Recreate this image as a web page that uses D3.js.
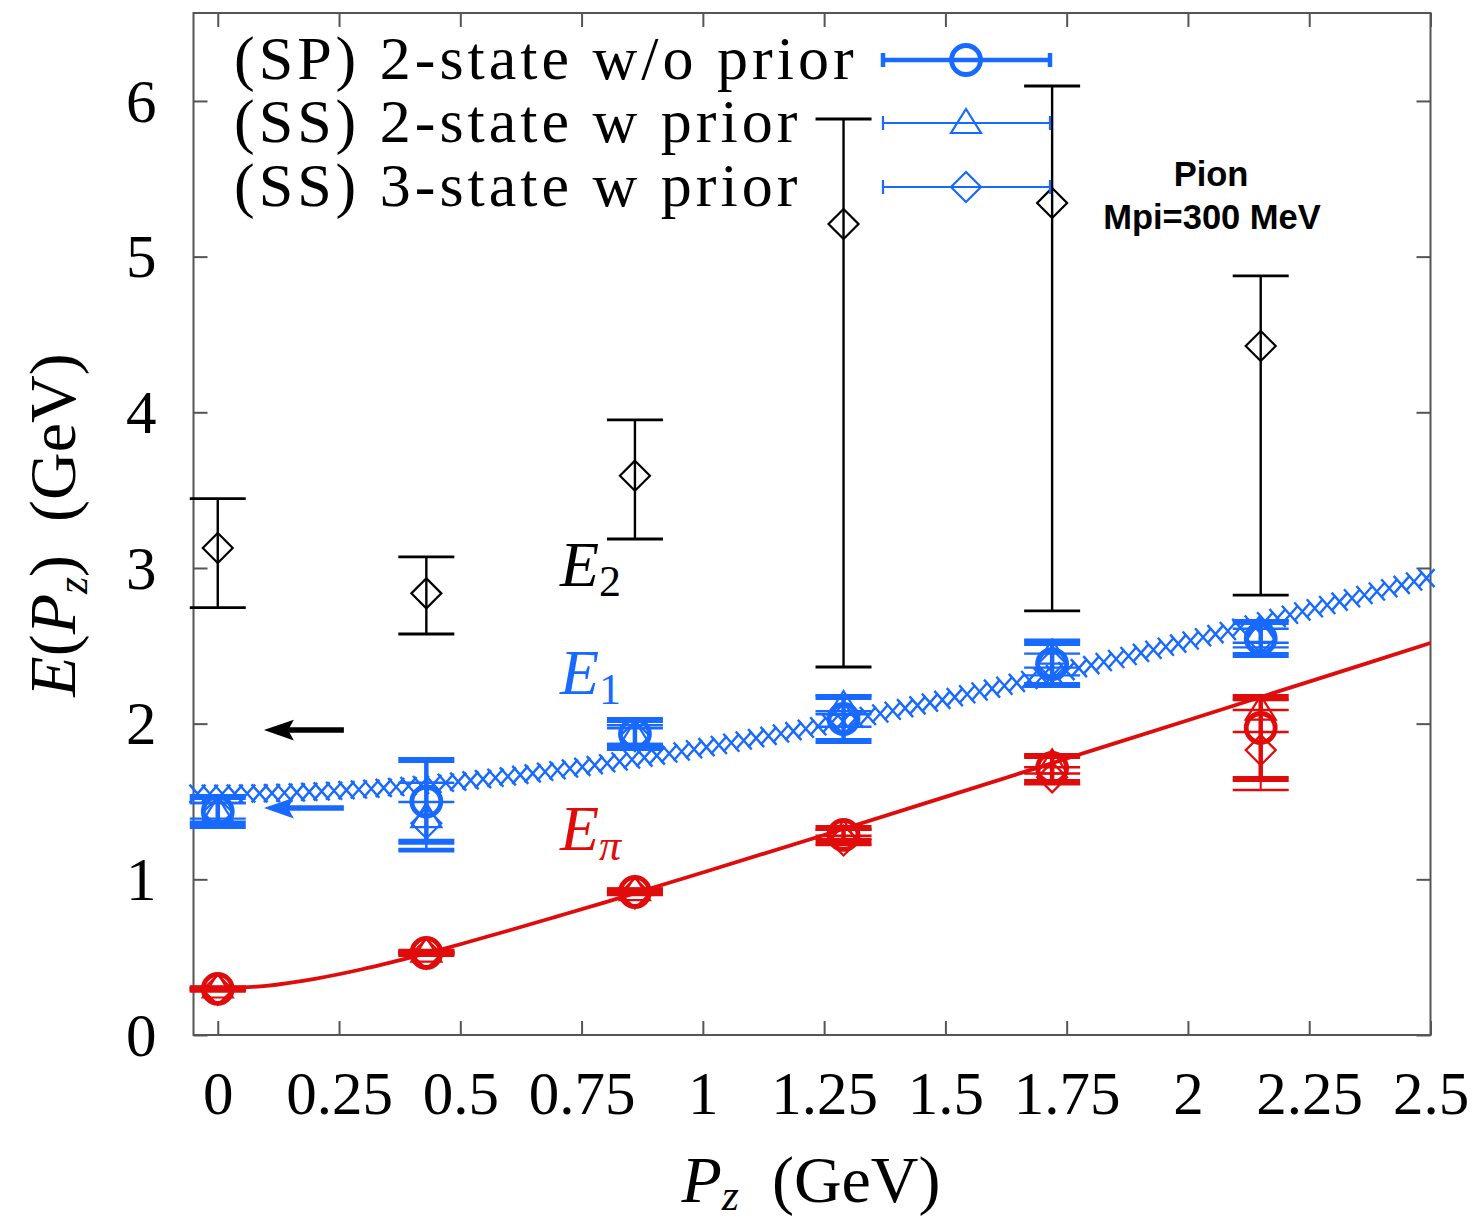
<!DOCTYPE html>
<html><head><meta charset="utf-8">
<script src="https://cdn.jsdelivr.net/npm/d3@7"></script>
<style>
html,body{margin:0;padding:0;background:#fff;}
svg{display:block;}
</style></head>
<body>
<svg id="c" width="1479" height="1223"></svg>
<script>
// ---------- data ----------
const pz = [0, 0.43, 0.86, 1.29, 1.72, 2.15];

// E_pi (red): value, upper, lower
const piSP = [0.296, 0.527, 0.919, 1.285, 1.715, 1.972];
const piSPhi = [0.300, 0.535, 0.930, 1.330, 1.792, 2.171];
const piSPlo = [0.290, 0.520, 0.910, 1.240, 1.625, 1.645];
const piS2 = [0.305, 0.535, 0.930, 1.290, 1.745, 2.090];
const piS2hi = [0.309, 0.540, 0.940, 1.320, 1.790, 2.152];
const piS2lo = [0.301, 0.530, 0.920, 1.260, 1.680, 1.946];
const piS3 = [0.290, 0.520, 0.910, 1.250, 1.655, 1.830];
const piS3hi = [0.294, 0.525, 0.920, 1.280, 1.720, 2.088];
const piS3lo = [0.286, 0.515, 0.900, 1.220, 1.610, 1.574];

// E_1 (blue)
const e1SP = [1.436, 1.500, 1.933, 2.030, 2.383, 2.547];
const e1SPhi = [1.529, 1.767, 2.023, 2.171, 2.518, 2.653];
const e1SPlo = [1.343, 1.242, 1.843, 1.889, 2.248, 2.441];
const e1S2 = [1.440, 1.400, 1.930, 2.120, 2.450, 2.590];
const e1S2hi = [1.490, 1.620, 1.990, 2.180, 2.540, 2.660];
const e1S2lo = [1.390, 1.180, 1.870, 2.060, 2.360, 2.520];
const e1S3 = [1.430, 1.360, 1.920, 2.030, 2.380, 2.550];
const e1S3hi = [1.490, 1.497, 1.970, 2.080, 2.450, 2.610];
const e1S3lo = [1.370, 1.195, 1.870, 1.980, 2.310, 2.490];

// E_2 (black, 3-state)
const e2S3 = [3.128, 2.837, 3.593, 5.210, 5.345, 4.426];
const e2S3hi = [3.446, 3.071, 3.951, 5.884, 6.096, 4.876];
const e2S3lo = [2.745, 2.576, 3.186, 2.364, 2.724, 2.826];

// fit curves
const fitX = [-0.05, 0, 0.1, 0.2, 0.3, 0.4, 0.5, 0.6, 0.7, 0.8, 0.9, 1.0, 1.25, 1.5, 1.75, 2.0, 2.25, 2.5];
const fitPi = [0.304, 0.300, 0.316, 0.361, 0.424, 0.500, 0.583, 0.671, 0.762, 0.854, 0.949, 1.044, 1.285, 1.530, 1.776, 2.022, 2.270, 2.518];
const fitE1 = [1.551, 1.550, 1.553, 1.563, 1.579, 1.601, 1.629, 1.662, 1.701, 1.744, 1.792, 1.845, 1.991, 2.157, 2.338, 2.530, 2.732, 2.942];

// arrows [x tail, x tip, y]
const arrowBlack = [0.26, 0.10, 1.959];
const arrowBlue = [0.26, 0.10, 1.458];

const xTicks = [0, 0.25, 0.5, 0.75, 1, 1.25, 1.5, 1.75, 2, 2.25, 2.5];
const xTickLabels = ["0", "0.25", "0.5", "0.75", "1", "1.25", "1.5", "1.75", "2", "2.25", "2.5"];
const yTicks = [0, 1, 2, 3, 4, 5, 6];
const yTickLabels = ["0", "1", "2", "3", "4", "5", "6"];

const legendLabels = ["(SP) 2-state w/o prior", "(SS) 2-state w prior", "(SS) 3-state w prior"];

// ---------- drawing ----------
const RED = "#e00b0b", BLUE = "#1769ff", FRAME = "#555";
const SERIF = "'Liberation Serif','DejaVu Serif',serif";
const svg = d3.select("#c");
const L = 193.5, R = 1430.5, T = 13, B = 1035;
const x = d3.scaleLinear().domain([-0.05, 2.5]).range([L, R]);
const y = d3.scaleLinear().domain([0, 6.565]).range([B, T]);

// axes
const tickLen = 14;
function styleAxis(g){ g.select(".domain").remove(); g.selectAll(".tick line").attr("stroke", FRAME).attr("stroke-width", 2); }
svg.append("g").attr("transform", `translate(0,${B})`)
  .call(d3.axisBottom(x).tickValues(xTicks).tickSizeInner(-tickLen).tickSizeOuter(0).tickPadding(tickLen + 65).tickFormat((d,i)=>xTickLabels[i]))
  .call(styleAxis)
  .call(g=>g.selectAll("text").attr("font-family", SERIF).attr("font-size", 61).attr("fill","#000").attr("dy", 0));
svg.append("g").attr("transform", `translate(0,${T})`)
  .call(d3.axisTop(x).tickValues(xTicks).tickSizeInner(-tickLen).tickSizeOuter(0).tickFormat(""))
  .call(styleAxis);
svg.append("g").attr("transform", `translate(${L},0)`)
  .call(d3.axisLeft(y).tickValues(yTicks).tickSizeInner(-tickLen).tickSizeOuter(0).tickPadding(tickLen + 23).tickFormat((d,i)=>yTickLabels[i]))
  .call(styleAxis)
  .call(g=>g.selectAll("text").attr("font-family", SERIF).attr("font-size", 61).attr("fill","#000").attr("dy", "0.33em"));
svg.append("g").attr("transform", `translate(${R},0)`)
  .call(d3.axisRight(y).tickValues(yTicks).tickSizeInner(-tickLen).tickSizeOuter(0).tickFormat(""))
  .call(styleAxis);
svg.append("rect").attr("x", L).attr("y", T).attr("width", R - L).attr("height", B - T)
  .attr("fill", "none").attr("stroke", FRAME).attr("stroke-width", 2);

// axis titles
const xt = svg.append("text").attr("x", 811).attr("y", 1202).attr("text-anchor", "middle")
  .attr("font-family", SERIF).attr("font-size", 66);
xt.append("tspan").attr("font-style", "italic").text("P");
xt.append("tspan").attr("font-style", "italic").attr("font-size", 44).attr("dy", 8).text("z");
xt.append("tspan").attr("dy", -8).text("\u2002(GeV)");

const yt = svg.append("text").attr("transform", "translate(75,525) rotate(-90)").attr("text-anchor", "middle")
  .attr("font-family", SERIF).attr("font-size", 66);
yt.append("tspan").attr("font-style", "italic").text("E");
yt.append("tspan").text("(");
yt.append("tspan").attr("font-style", "italic").text("P");
yt.append("tspan").attr("font-style", "italic").attr("font-size", 44).attr("dy", 12).text("z");
yt.append("tspan").attr("dy", -12).text(")\u2002(GeV)");

const plot = svg.append("g");

// fit: red line
const line = d3.line().x(d=>x(d[0])).y(d=>y(d[1])).curve(d3.curveMonotoneX);
plot.append("path").datum(fitX.map((v,i)=>[v, fitPi[i]])).attr("d", line)
  .attr("fill", "none").attr("stroke", RED).attr("stroke-width", 3.8);

// fit: blue band of x markers
const e1path = plot.append("path").datum(fitX.map((v,i)=>[v, fitE1[i]])).attr("d", line)
  .attr("fill", "none").attr("stroke", "none");
const pnode = e1path.node(), plen = pnode.getTotalLength();
function pointAtX(px){
  let lo = 0, hi = plen;
  for (let k=0;k<40;k++){ const m=(lo+hi)/2; if (pnode.getPointAtLength(m).x < px) lo=m; else hi=m; }
  return pnode.getPointAtLength((lo+hi)/2);
}
const nSamp = 100;
const crossG = plot.append("g").attr("stroke", BLUE).attr("stroke-width", 2.4).attr("fill","none");
for (let i=0;i<nSamp;i++){
  const px = L + 4 + (R - L - 8) * i / (nSamp - 1);
  const p = pointAtX(px);
  const hw = 8, hh = 9;
  crossG.append("path").attr("d", `M${p.x-hw},${p.y-hh}L${p.x+hw},${p.y+hh}M${p.x-hw},${p.y+hh}L${p.x+hw},${p.y-hh}`);
}

// markers
function marker(g, type, cx, cy, color, sw){
  if (type === "circle") g.append("circle").attr("cx", cx).attr("cy", cy).attr("r", 14.5).attr("fill","none").attr("stroke", color).attr("stroke-width", sw);
  else if (type === "tri") g.append("path").attr("d", `M${cx},${cy-14}L${cx+15},${cy+10}L${cx-15},${cy+10}Z`).attr("fill","none").attr("stroke", color).attr("stroke-width", sw);
  else g.append("path").attr("d", `M${cx},${cy-15}L${cx+15},${cy}L${cx},${cy+15}L${cx-15},${cy}Z`).attr("fill","none").attr("stroke", color).attr("stroke-width", sw);
}
function errSeries(vals, hi, lo, type, color, lw, capw){
  const g = plot.append("g");
  vals.forEach((v,i)=>{
    const cx = x(pz[i]);
    const y1 = y(hi[i]), y0 = y(lo[i]);
    g.append("line").attr("x1", cx).attr("x2", cx).attr("y1", y1).attr("y2", y0).attr("stroke", color).attr("stroke-width", lw);
    g.append("line").attr("x1", cx-28).attr("x2", cx+28).attr("y1", y1).attr("y2", y1).attr("stroke", color).attr("stroke-width", capw);
    g.append("line").attr("x1", cx-28).attr("x2", cx+28).attr("y1", y0).attr("y2", y0).attr("stroke", color).attr("stroke-width", capw);
    marker(g, type, cx, y(v), color, type === "circle" ? 4.8 : 2.2);
  });
}

// E2 black
errSeries(e2S3, e2S3hi, e2S3lo, "diamond", "#000", 2.4, 2.8);
// E1 blue
errSeries(e1S3, e1S3hi, e1S3lo, "diamond", BLUE, 2, 2.4);
errSeries(e1S2, e1S2hi, e1S2lo, "tri", BLUE, 2, 2.4);
errSeries(e1SP, e1SPhi, e1SPlo, "circle", BLUE, 4.5, 6);
// E_pi red
errSeries(piS3, piS3hi, piS3lo, "diamond", RED, 2, 2.4);
errSeries(piS2, piS2hi, piS2lo, "tri", RED, 2, 2.4);
errSeries(piSP, piSPhi, piSPlo, "circle", RED, 4.5, 6);

// arrows
function arrow(a, color){
  const x0 = x(a[0]), x1 = x(a[1]), yy = y(a[2]);
  plot.append("line").attr("x1", x0).attr("x2", x1 + 20).attr("y1", yy).attr("y2", yy).attr("stroke", color).attr("stroke-width", 5.5);
  plot.append("path").attr("d", `M${x1},${yy}L${x1+26},${yy-9}L${x1+21},${yy}L${x1+26},${yy+9}Z`).attr("fill", color).attr("stroke", color).attr("stroke-width", 1.5);
}
arrow(arrowBlack, "#000");
arrow(arrowBlue, BLUE);

// state labels
function stateLabel(px, py, sub, color){
  const t = svg.append("text").attr("x", px).attr("y", py).attr("font-family", SERIF).attr("font-size", 64).attr("fill", color);
  t.append("tspan").attr("font-style", "italic").text("E");
  t.append("tspan").attr("font-size", 44).attr("dy", 10).attr("font-style", sub === "\u03c0" ? "italic" : "normal").text(sub);
}
stateLabel(560, 586, "2", "#000");
stateLabel(560, 694, "1", BLUE);
stateLabel(560, 850, "\u03c0", RED);

// legend
const legY = [60, 123, 187];
const legTypes = ["circle", "tri", "diamond"];
legendLabels.forEach((lab, i)=>{
  svg.append("text").attr("x", 234).attr("y", legY[i] + 19).attr("font-family", SERIF).attr("font-size", 62)
    .attr("letter-spacing", 4).attr("fill", "#000").text(lab);
  const g = svg.append("g");
  const lw = i === 0 ? 4.5 : 2.2;
  g.append("line").attr("x1", 883).attr("x2", 1050).attr("y1", legY[i]).attr("y2", legY[i]).attr("stroke", BLUE).attr("stroke-width", lw);
  [883, 1050].forEach(ex => g.append("line").attr("x1", ex).attr("x2", ex).attr("y1", legY[i]-7).attr("y2", legY[i]+7).attr("stroke", BLUE).attr("stroke-width", lw));
  marker(g, legTypes[i], 966, legY[i], BLUE, i === 0 ? 4.8 : 2.2);
});

// annotation
const SANS = "'Liberation Sans',Arial,sans-serif";
svg.append("text").attr("x", 1211).attr("y", 186).attr("text-anchor", "middle").attr("font-family", SANS).attr("font-weight", "bold").attr("font-size", 34.5).text("Pion");
svg.append("text").attr("x", 1212).attr("y", 229).attr("text-anchor", "middle").attr("font-family", SANS).attr("font-weight", "bold").attr("font-size", 34.5).text("Mpi=300 MeV");
</script>
</body></html>
